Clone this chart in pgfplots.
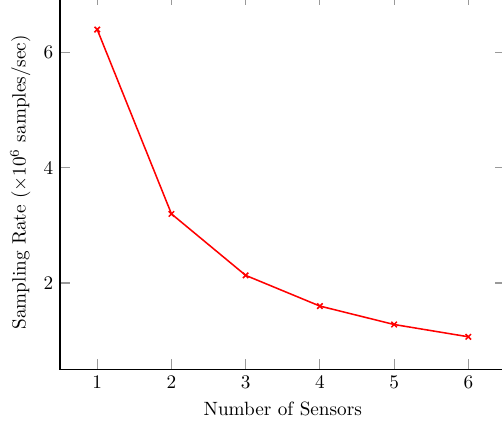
\documentclass[border=0pt]{standalone}
\usepackage{pgfplots}
\pgfplotsset{compat=1.18}
\usetikzlibrary{calc}
\begin{document}
\begin{tikzpicture}
\begin{axis}[
  scale only axis,
  width=231.8pt, height=194.9pt,
  xmin=0.5, xmax=6.5, ymin=0.5, ymax=7,
  xtick={1,2,3,4,5,6},
  ytick={2,4,6},
  tick align=inside,
  major tick length=5.2pt,
  every tick/.style={gray!80, line width=0.6pt},
  axis line style={black, line width=0.8pt},
  xlabel={Number of Sensors},
  ylabel={Sampling Rate ($\times 10^6$ samples/sec)},
]
\addplot[red, line width=0.8pt, mark=x, mark size=2pt, mark options={solid, line width=0.8pt}]
  coordinates {(1,6.4) (2,3.2) (3,2.133) (4,1.6) (5,1.28) (6,1.067)};
\end{axis}
\pgfresetboundingbox
\path[use as bounding box] ($(current axis.south west)+(-31.3pt,-29.2pt)$) rectangle ($(current axis.north east)+(-1.8pt,-2.6pt)$);
\end{tikzpicture}
\end{document}
